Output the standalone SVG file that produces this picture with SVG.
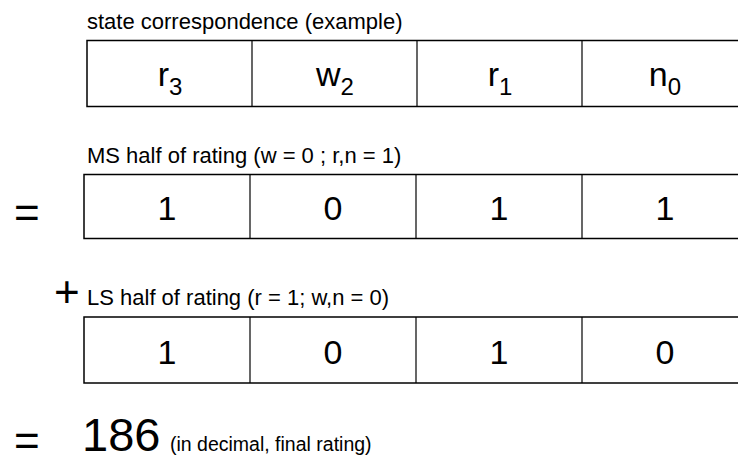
<svg xmlns="http://www.w3.org/2000/svg" width="738" height="464" viewBox="0 0 738 464">
<style>
text{font-family:"Liberation Sans",Arial,sans-serif;fill:#000}
.cap{font-size:22px}
.cell{font-size:34px;text-anchor:middle}
.sub{font-size:24px}
.box{fill:none;stroke:#000;stroke-width:1.5}
.div{stroke:#000;stroke-width:1.2}
.op{font-size:44px}
</style>
<rect width="738" height="464" fill="#fff"/>
<g id="row1">
<text class="cap" x="87" y="29">state correspondence (example)</text>
<rect class="box" x="87" y="40.5" width="700" height="66"/>
<line class="div" x1="252" y1="40.5" x2="252" y2="106.5"/>
<line class="div" x1="417" y1="40.5" x2="417" y2="106.5"/>
<line class="div" x1="582" y1="40.5" x2="582" y2="106.5"/>
<text class="cell" x="170" y="86">r<tspan class="sub" dy="9">3</tspan></text>
<text class="cell" x="335" y="86">w<tspan class="sub" dy="9">2</tspan></text>
<text class="cell" x="500" y="86">r<tspan class="sub" dy="9">1</tspan></text>
<text class="cell" x="665" y="86">n<tspan class="sub" dy="9">0</tspan></text>
</g>
<g id="row2">
<text class="cap" x="87" y="163">MS half of rating (w = 0 ; r,n = 1)</text>
<text class="op" x="14" y="228">=</text>
<rect class="box" x="84" y="174.5" width="700" height="64"/>
<line class="div" x1="250" y1="174.5" x2="250" y2="238.5"/>
<line class="div" x1="416" y1="174.5" x2="416" y2="238.5"/>
<line class="div" x1="582" y1="174.5" x2="582" y2="238.5"/>
<text class="cell" x="167" y="220">1</text>
<text class="cell" x="333" y="220">0</text>
<text class="cell" x="499" y="220">1</text>
<text class="cell" x="665" y="220">1</text>
</g>
<g id="row3">
<text class="op" x="54" y="307">+</text>
<text class="cap" x="87" y="305">LS half of rating (r = 1; w,n = 0)</text>
<rect class="box" x="84" y="317" width="700" height="66"/>
<line class="div" x1="250" y1="317" x2="250" y2="383"/>
<line class="div" x1="416" y1="317" x2="416" y2="383"/>
<line class="div" x1="582" y1="317" x2="582" y2="383"/>
<text class="cell" x="167" y="364">1</text>
<text class="cell" x="333" y="364">0</text>
<text class="cell" x="499" y="364">1</text>
<text class="cell" x="665" y="364">0</text>
</g>
<g id="result">
<text class="op" x="14" y="456">=</text>
<text x="82" y="451" font-size="47">186</text>
<text x="170" y="451" font-size="19.5">(in decimal, final rating)</text>
</g>
</svg>
